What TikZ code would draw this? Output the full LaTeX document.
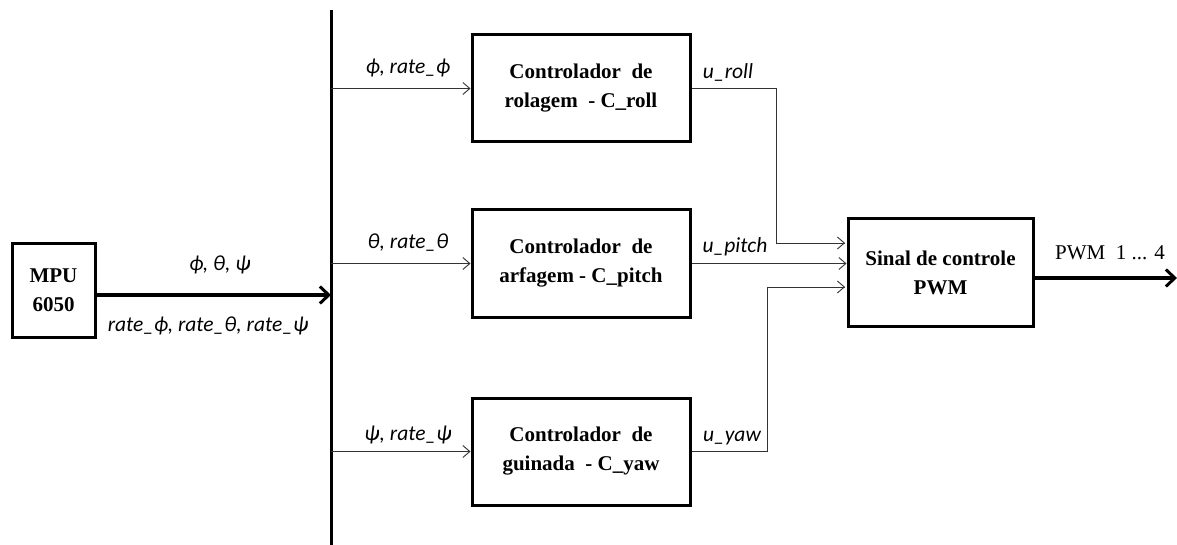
\documentclass[tikz,border=0pt]{standalone}
\usepackage{fontspec}
\setmainfont{Liberation Serif}
\newfontfamily\lab{Carlito}
\usetikzlibrary{arrows.meta,calc}
\begin{document}
\begin{tikzpicture}[x=1pt,y=-1pt,
  blk/.style={draw,line width=3pt,fill=white,align=center,font=\fontsize{21}{29}\selectfont\bfseries,inner sep=0pt},
  thin/.style={draw=black!80,line width=0.9pt,-{Straight Barb[length=7pt,width=12pt]}},
  thinl/.style={draw=black!80,line width=0.9pt},
  thick/.style={line width=4pt,-{Straight Barb[length=9pt,width=17pt,line width=3pt]}},
  lbl/.style={font=\fontsize{21.5}{24}\selectfont\lab\itshape,inner sep=0pt}]
\useasboundingbox (0,0) rectangle (1177,545);
% blocks
\node[blk,minimum width=83pt,minimum height=93pt] (mpu) at (53.5,290.5) {MPU\\6050};
\node[blk,minimum width=218pt,minimum height=107pt] (c1) at (581,88.5) {Controlador~ de\\rolagem~ - C\_roll};
\node[blk,minimum width=218pt,minimum height=107pt] (c2) at (581,263.5) {Controlador~ de\\arfagem - C\_pitch};
\node[blk,minimum width=218pt,minimum height=107pt] (c3) at (581,451.5) {Controlador~ de\\guinada~ - C\_yaw};
\node[blk,minimum width=185pt,minimum height=107pt] (pwm) at (940.5,272.5) {Sinal de controle\\PWM};
% bus
\coordinate (bt) at (331,10);
\coordinate (bb) at (331,545);
\draw[line width=3pt] (bt) -- (bb);
% main arrow
\draw[thick] (mpu.east |- 0,295) -- (bt |- 0,295);
\node[lbl] (l0) at (220,265) {ϕ, θ, ψ};
\node[lbl] (l0b) at (208,326) {rate\_ϕ, rate\_θ, rate\_ψ};
% inputs
\draw[thin] (bt |- c1.west) -- (c1.west);
\draw[thin] (bt |- c2.west) -- (c2.west);
\draw[thin] (bt |- c3.west) -- (c3.west);
\node[lbl] (l1) at (408,68) {ϕ, rate\_ϕ};
\node[lbl] (l2) at (408,243) {θ, rate\_θ};
\node[lbl] (l3) at (408,435) {ψ, rate\_ψ};
% outputs
\coordinate (k1) at (776,88.5);
\coordinate (p1) at (845,243);
\coordinate (k3) at (767,451.5);
\coordinate (p3) at (845,287);
\draw[thinl] (c1.east) -- (k1) |- (p1);
\draw[thin] (k1 |- p1) -- (p1);
\draw[thin] (c2.east) -- (pwm.west |- c2.east);
\draw[thinl] (c3.east) -- (k3) |- (p3);
\draw[thin] (k3 |- p3) -- (p3);
\node[lbl] (u1) at (728,72) {u\_roll};
\node[lbl] (u2) at (735,247) {u\_pitch};
\node[lbl] (u3) at (732,438) {u\_yaw};
% output
\coordinate (out) at (1177,278);
\draw[thick] (pwm.east |- out) -- (out);
\node[font=\fontsize{21}{24}\selectfont,inner sep=0pt] (lo) at (1110,253) {PWM\ \ 1 ... 4};
\end{tikzpicture}
\end{document}
